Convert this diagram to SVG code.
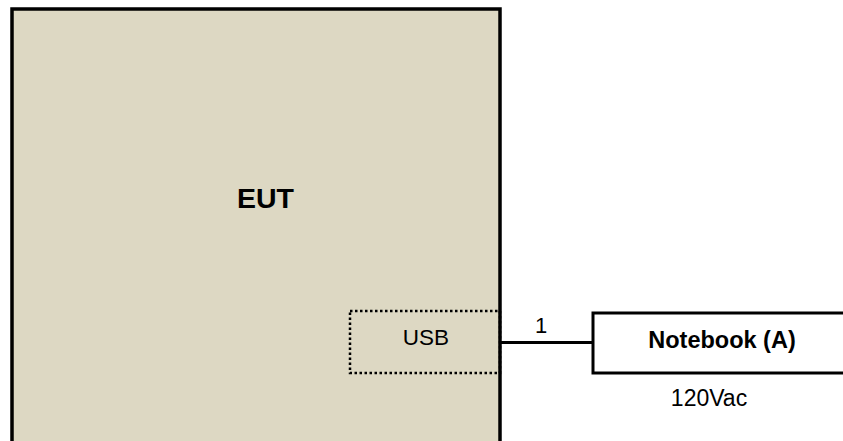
<svg xmlns="http://www.w3.org/2000/svg" width="843" height="441" viewBox="0 0 843 441">
<style>
.t{font-family:"Liberation Sans",Arial,sans-serif;fill:#000}
.b{font-weight:bold}
</style>
<rect width="843" height="441" fill="#fff"/>
<g id="eut">
<rect x="12" y="9" width="488" height="440" fill="#ddd8c3" stroke="#000" stroke-width="3.5"/>
<text class="t b" x="265.5" y="208" font-size="28.5" text-anchor="middle">EUT</text>
</g>
<g id="usb">
<rect x="350" y="311" width="150" height="62" fill="none" stroke="#000" stroke-width="2.5" stroke-dasharray="2.5,2.5"/>
<text class="t" x="426" y="345" font-size="22.5" text-anchor="middle">USB</text>
</g>
<g id="notebook">
<rect x="593" y="313" width="260" height="60" fill="#fff" stroke="#000" stroke-width="3"/>
<text class="t b" x="722" y="348" font-size="23.5" text-anchor="middle">Notebook (A)</text>
<text class="t" x="709" y="406" font-size="23" text-anchor="middle">120Vac</text>
</g>
<g id="connectors">
<line x1="501" y1="342.5" x2="593" y2="342.5" stroke="#000" stroke-width="3"/>
<text class="t" x="541" y="333" font-size="22" text-anchor="middle">1</text>
</g>
</svg>
